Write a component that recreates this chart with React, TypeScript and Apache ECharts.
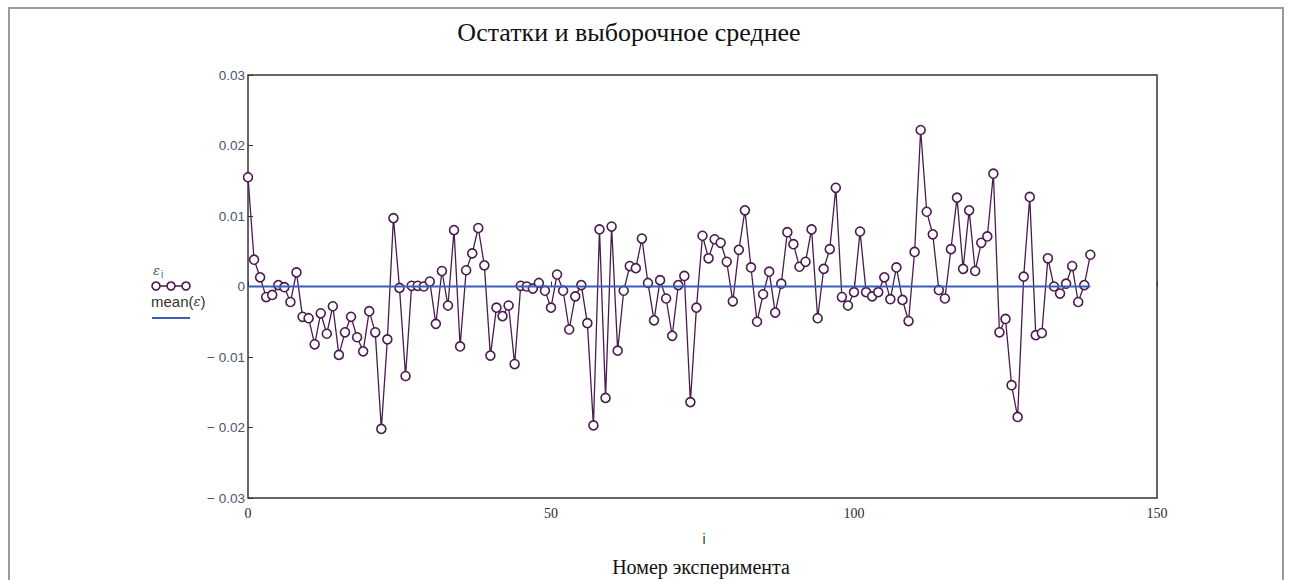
import React, { useEffect, useRef } from "react";
import * as echarts from "echarts";

const residuals: number[] = [
  0.0155, 0.0038, 0.0013, -0.0015, -0.0012, 0.0002, -0.0001, -0.0022, 0.002, -0.0043,
  -0.0045, -0.0082, -0.0038, -0.0067, -0.0028, -0.0097, -0.0065, -0.0043, -0.0072, -0.0092,
  -0.0035, -0.0065, -0.0202, -0.0075, 0.0097, -0.0002, -0.0127, 0.0001, 0.0001, 0.0,
  0.0007, -0.0053, 0.0022, -0.0027, 0.008, -0.0085, 0.0023, 0.0047, 0.0083, 0.003,
  -0.0098, -0.003, -0.0042, -0.0027, -0.011, 0.0001, 0.0, -0.0003, 0.0005, -0.0006,
  -0.003, 0.0017, -0.0006, -0.0061, -0.0014, 0.0002, -0.0052, -0.0197, 0.0081, -0.0158,
  0.0085, -0.0091, -0.0006, 0.0029, 0.0026, 0.0068, 0.0005, -0.0048, 0.0009, -0.0017,
  -0.007, 0.0002, 0.0015, -0.0164, -0.003, 0.0072, 0.004, 0.0067, 0.0062, 0.0035,
  -0.0021, 0.0052, 0.0108, 0.0027, -0.005, -0.0011, 0.0021, -0.0037, 0.0004, 0.0077,
  0.006, 0.0028, 0.0035, 0.0081, -0.0045, 0.0025, 0.0053, 0.014, -0.0015, -0.0027,
  -0.0008, 0.0078, -0.0008, -0.0014, -0.0008, 0.0013, -0.0018, 0.0027, -0.0019, -0.0049,
  0.0049, 0.0222, 0.0106, 0.0074, -0.0005, -0.0017, 0.0053, 0.0126, 0.0025, 0.0108,
  0.0022, 0.0062, 0.0071, 0.016, -0.0065, -0.0046, -0.014, -0.0185, 0.0014, 0.0127,
  -0.0069, -0.0066, 0.004, 0.0, -0.001, 0.0004, 0.0029, -0.0022, 0.0002, 0.0045,
];

const meanValue = 0;
const meanRange: number[] = [0, 139];

const yTicks: number[] = [-0.03, -0.02, -0.01, 0, 0.01, 0.02, 0.03];
const xTicks: number[] = [0, 50, 100, 150];

const titleText = "Остатки и выборочное среднее";
const xLabelVar = "i";
const xLabelText = "Номер эксперимента";

export default function App() {
  const ref = useRef<HTMLDivElement>(null);
  useEffect(() => {
    if (!ref.current) return;
    const chart = echarts.init(ref.current, null, { renderer: "svg" });
    const purple = "#4a1a50";
    const blue = "#3c5cb8";
    chart.setOption({
      animation: false,
      backgroundColor: "#ffffff",
      title: {
        text: titleText,
        left: 624,
        top: 14,
        textAlign: "center",
        textStyle: {
          fontFamily: "Liberation Serif",
          fontSize: 26,
          fontWeight: "normal",
          color: "#111",
        },
      },
      grid: {
        left: 248,
        right: 136,
        top: 75,
        bottom: 82,
        show: true,
        borderColor: "#333",
        borderWidth: 1.5,
      },
      xAxis: {
        type: "value",
        min: xTicks[0],
        max: xTicks[xTicks.length - 1],
        interval: 50,
        axisLine: { show: false },
        axisTick: { show: true, inside: true, length: 5, lineStyle: { color: "#333" } },
        splitLine: { show: false },
        axisLabel: {
          fontFamily: "Liberation Serif",
          fontSize: 14,
          color: "#2a2a3a",
          margin: 8,
          showMaxLabel: true,
          showMinLabel: true,
        },
      },
      yAxis: {
        type: "value",
        min: yTicks[0],
        max: yTicks[yTicks.length - 1],
        interval: 0.01,
        axisLine: { show: false },
        axisTick: { show: true, inside: true, length: 5, lineStyle: { color: "#333" } },
        splitLine: { show: false },
        axisLabel: {
          fontFamily: "Liberation Sans",
          fontSize: 13.5,
          color: "#4a5570",
          margin: 3,
          formatter: (v: number) => {
            const r = Math.round(v * 100) / 100;
            if (r === 0) return "0";
            if (r < 0) return "\u2212 " + Math.abs(r).toFixed(2);
            return r.toFixed(2);
          },
        },
      },
      series: [
        {
          type: "line",
          name: "eps",
          data: residuals.map((v, i) => [i, v]),
          symbol: "circle",
          symbolSize: 9,
          showAllSymbol: true,
          lineStyle: { color: purple, width: 1.3 },
          itemStyle: { color: "#ffffff", borderColor: purple, borderWidth: 1.6 },
          z: 3,
        },
        {
          type: "line",
          name: "mean",
          data: meanRange.map((x) => [x, meanValue]),
          symbol: "none",
          lineStyle: { color: blue, width: 2 },
          z: 4,
        },
      ],
      graphic: [
        {
          type: "rect",
          shape: { x: 9, y: 8, width: 1274, height: 600 },
          style: { fill: "none", stroke: "#9a9a9a", lineWidth: 2 },
          silent: true,
        },
        {
          type: "text",
          x: 153,
          y: 261,
          style: {
            text: "{e|ε}{s|i}",
            rich: {
              e: { fontFamily: "DejaVu Serif", fontStyle: "italic", fontSize: 13, fill: "#555" },
              s: { fontFamily: "Liberation Sans", fontSize: 10, fill: "#3c5cb8", padding: [8, 0, 0, 1] },
            },
          },
        },
        {
          type: "line",
          shape: { x1: 152, y1: 286, x2: 189, y2: 286 },
          style: { stroke: purple, lineWidth: 1.6 },
        },
        { type: "circle", shape: { cx: 156, cy: 286, r: 4 }, style: { fill: "#fff", stroke: purple, lineWidth: 1.6 } },
        { type: "circle", shape: { cx: 171, cy: 286, r: 4 }, style: { fill: "#fff", stroke: purple, lineWidth: 1.6 } },
        { type: "circle", shape: { cx: 186, cy: 286, r: 4 }, style: { fill: "#fff", stroke: purple, lineWidth: 1.6 } },
        {
          type: "text",
          x: 151,
          y: 294,
          style: {
            text: "{m|mean(}{e|ε}{m|)}",
            rich: {
              m: { fontFamily: "Liberation Sans", fontSize: 15, fill: "#333" },
              e: { fontFamily: "DejaVu Serif", fontStyle: "italic", fontSize: 13, fill: "#333" },
            },
          },
        },
        {
          type: "line",
          shape: { x1: 152, y1: 318, x2: 190, y2: 318 },
          style: { stroke: blue, lineWidth: 2 },
        },
        {
          type: "text",
          x: 704,
          y: 532,
          style: {
            text: xLabelVar,
            fontFamily: "Liberation Sans",
            fontSize: 14,
            fill: "#333",
            align: "center",
          },
        },
        {
          type: "text",
          x: 701,
          y: 557,
          style: {
            text: xLabelText,
            fontFamily: "Liberation Serif",
            fontSize: 20,
            fill: "#111",
            align: "center",
          },
        },
      ],
    });
    return () => chart.dispose();
  }, []);
  return (
    <div
      ref={ref}
      style={{ position: "fixed", left: 0, top: 0, width: 1293, height: 580 }}
    />
  );
}
